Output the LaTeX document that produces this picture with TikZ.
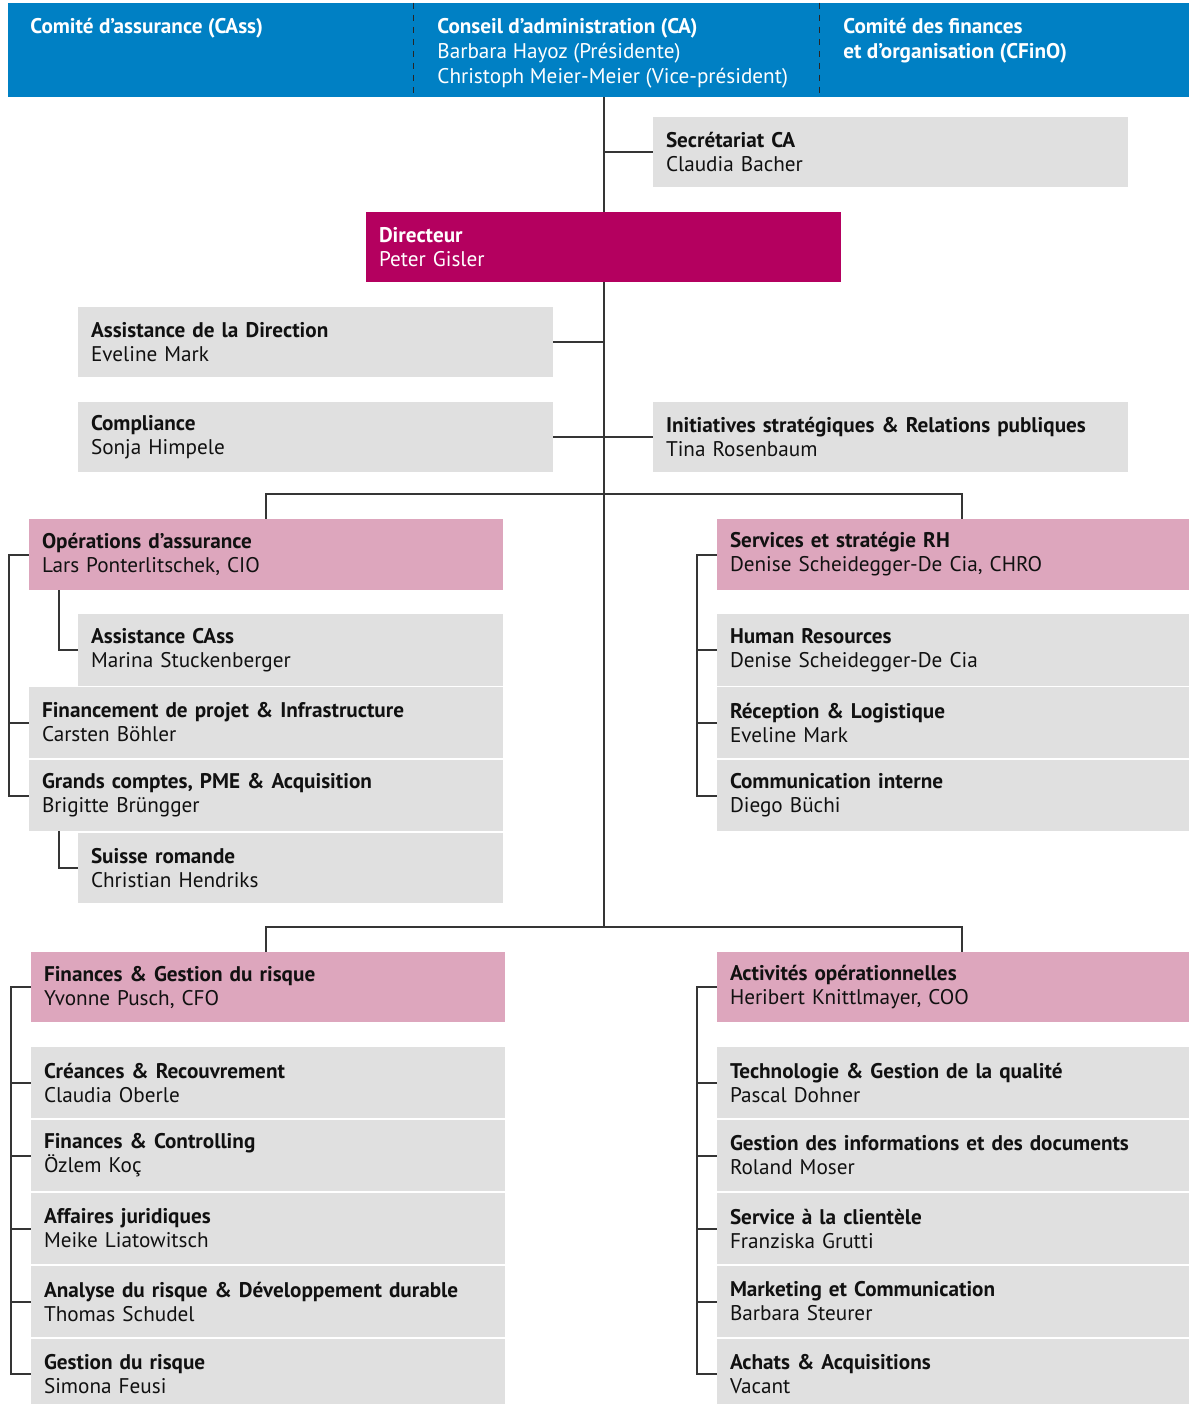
\documentclass[tikz,border=0pt]{standalone}
\usepackage{fontspec}
\setmainfont{PT Sans}
\usetikzlibrary{calc}
\definecolor{hdrblue}{HTML}{0080C4}
\definecolor{dirmag}{HTML}{B4005F}
\definecolor{divpink}{HTML}{DDA6BD}
\definecolor{unitgray}{HTML}{E0E0E0}
\definecolor{linegray}{HTML}{353535}
\definecolor{inkblack}{HTML}{111111}
\tikzset{
  orgbox/.style={rectangle, inner xsep=6.5pt, inner ysep=0pt, align=left,
    font=\fontsize{10.6}{12}\selectfont, text=inkblack},
  grayunit/.style={orgbox, fill=unitgray},
  pinkunit/.style={orgbox, fill=divpink},
  dirunit/.style={orgbox, fill=dirmag, text=white},
  hdrzone/.style={rectangle, fill=hdrblue, inner sep=0pt},
  link/.style={draw=linegray, line width=1pt},
  sep/.style={draw=black!85, line width=0.75pt, dash pattern=on 3pt off 3pt},
  hdrtext/.style={anchor=base west, inner sep=0pt, align=left, text=white,
    font=\fontsize{10.6}{12.5}\selectfont},
}
\newcommand{\orgunit}[8]{%
  \pgfmathsetmacro\ouTW{(#4-#2)*0.5-13}%
  \pgfmathsetmacro\ouMH{(#5-#3)*0.5}%
  \pgfmathsetmacro\ouCX{(#2+#4)/2}%
  \pgfmathsetmacro\ouCY{(#3+#5)/2}%
  \node[#6, minimum height=\ouMH pt, text width=\ouTW pt] (#1) at (\ouCX,\ouCY) {\textbf{#7}\\#8};}
\newcommand{\hdrzonebox}[5]{%
  \pgfmathsetmacro\ouMW{(#4-#2)*0.5}%
  \pgfmathsetmacro\ouMH{(#5-#3)*0.5}%
  \pgfmathsetmacro\ouCX{(#2+#4)/2}%
  \pgfmathsetmacro\ouCY{(#3+#5)/2}%
  \node[hdrzone, minimum width=\ouMW pt, minimum height=\ouMH pt] (#1) at (\ouCX,\ouCY) {};}
\begin{document}
\begin{tikzpicture}[x=0.5pt, y=-0.5pt]
\useasboundingbox (0,0) rectangle (1189,1404);
% header
\hdrzonebox{cass}{8}{3}{413}{97}
\hdrzonebox{ca}{412}{3}{819}{97}
\hdrzonebox{cfino}{818}{3}{1189}{97}
\draw[sep] (cass.north east) -- (cass.south east);
\draw[sep] (ca.north east) -- (ca.south east);
% base anchor = baseline of the last line
\node[hdrtext] (cassL) at (30,33) {\textbf{Comité d’assurance (CAss)}};
\node[hdrtext] (caL) at (437,83) {\textbf{Conseil d’administration (CA)}\\Barbara Hayoz (Présidente)\\Christoph Meier-Meier (Vice-président)};
\node[hdrtext] (cfL) at (843,58) {\textbf{Comité des finances}\\\textbf{et d’organisation (CFinO)}};
% units
\orgunit{sec}{653}{117}{1128}{187}{grayunit}{Secrétariat CA}{Claudia Bacher}
\orgunit{dir}{366}{212}{841}{282}{dirunit}{Directeur}{Peter Gisler}
\orgunit{asd}{78}{307}{553}{377}{grayunit}{Assistance de la Direction}{Eveline Mark}
\orgunit{comp}{78}{402}{553}{472}{grayunit}{Compliance}{Sonja Himpele}
\orgunit{ini}{653}{402}{1128}{472}{grayunit}{Initiatives stratégiques \& Relations publiques}{Tina Rosenbaum}
\orgunit{ops}{29}{519}{503}{590}{pinkunit}{Opérations d’assurance}{Lars Ponterlitschek, CIO}
\orgunit{acass}{78}{614}{503}{686}{grayunit}{Assistance CAss}{Marina Stuckenberger}
\orgunit{fpi}{29}{687}{503}{758}{grayunit}{Financement de projet \& Infrastructure}{Carsten Böhler}
\orgunit{gc}{29}{760}{503}{831}{grayunit}{Grands comptes, PME \& Acquisition}{Brigitte Brüngger}
\orgunit{sr}{78}{833}{503}{903}{grayunit}{Suisse romande}{Christian Hendriks}
\orgunit{rh}{717}{519}{1189}{590}{pinkunit}{Services et stratégie RH}{Denise Scheidegger-De Cia, CHRO}
\orgunit{hr}{717}{614}{1189}{686}{grayunit}{Human Resources}{Denise Scheidegger-De Cia}
\orgunit{rl}{717}{687}{1189}{758}{grayunit}{Réception \& Logistique}{Eveline Mark}
\orgunit{ci}{717}{760}{1189}{831}{grayunit}{Communication interne}{Diego Büchi}
\orgunit{fin}{31}{952}{505}{1022}{pinkunit}{Finances \& Gestion du risque}{Yvonne Pusch, CFO}
\orgunit{cr}{31}{1047}{505}{1118}{grayunit}{Créances \& Recouvrement}{Claudia Oberle}
\orgunit{fc}{31}{1120}{505}{1191}{grayunit}{Finances \& Controlling}{Özlem Koç}
\orgunit{aj}{31}{1193}{505}{1264}{grayunit}{Affaires juridiques}{Meike Liatowitsch}
\orgunit{ar}{31}{1266}{505}{1337}{grayunit}{Analyse du risque \& Développement durable}{Thomas Schudel}
\orgunit{gr}{31}{1339}{505}{1409}{grayunit}{Gestion du risque}{Simona Feusi}
\orgunit{act}{717}{952}{1189}{1022}{pinkunit}{Activités opérationnelles}{Heribert Knittlmayer, COO}
\orgunit{tq}{717}{1047}{1189}{1118}{grayunit}{Technologie \& Gestion de la qualité}{Pascal Dohner}
\orgunit{gid}{717}{1120}{1189}{1191}{grayunit}{Gestion des informations et des documents}{Roland Moser}
\orgunit{sc}{717}{1193}{1189}{1264}{grayunit}{Service à la clientèle}{Franziska Grutti}
\orgunit{mc}{717}{1266}{1189}{1337}{grayunit}{Marketing et Communication}{Barbara Steurer}
\orgunit{aa}{717}{1339}{1189}{1409}{grayunit}{Achats \& Acquisitions}{Vacant}
% helper coordinates
\coordinate (busA) at (603.5,494);
\coordinate (busB) at (603.5,927);
\coordinate (rhdrop) at (962,519);
\coordinate (actdrop) at (962,952);
\coordinate (opsx) at (9,0);
\coordinate (rhx) at (697,0);
\coordinate (finx) at (11,0);
\coordinate (actx) at (697,0);
\coordinate (subx) at (59,0);
% trunk
\draw[link] (ca.south -| dir.center) -- (dir.north);
\draw[link] (dir.south) -- (busB);
\draw[link] (sec.west) -- (sec.west -| dir.center);
\draw[link] (asd.east) -- (asd.east -| dir.center);
\draw[link] (comp.east) -- (ini.west);
% buses
\draw[link] (ops.north) -- (ops.north |- busA) -- (rhdrop |- busA) -- (rhdrop);
\draw[link] (fin.north -| ops.north) -- (ops.north |- busB) -- (actdrop |- busB) -- (actdrop);
% left top bracket
\draw[link] (ops.west) -- (ops.west -| opsx) |- (gc.west);
\draw[link] (fpi.west) -- (fpi.west -| opsx);
\draw[link] (ops.south -| subx) |- (acass.west);
\draw[link] (gc.south -| subx) |- (sr.west);
% right top bracket
\draw[link] (rh.west) -- (rh.west -| rhx) |- (ci.west);
\draw[link] (hr.west) -- (hr.west -| rhx);
\draw[link] (rl.west) -- (rl.west -| rhx);
% left bottom bracket
\draw[link] (fin.west) -- (fin.west -| finx) |- (gr.west);
\foreach \u in {cr,fc,aj,ar} \draw[link] (\u.west) -- (\u.west -| finx);
% right bottom bracket
\draw[link] (act.west) -- (act.west -| actx) |- (aa.west);
\foreach \u in {tq,gid,sc,mc} \draw[link] (\u.west) -- (\u.west -| actx);
\end{tikzpicture}
\end{document}
